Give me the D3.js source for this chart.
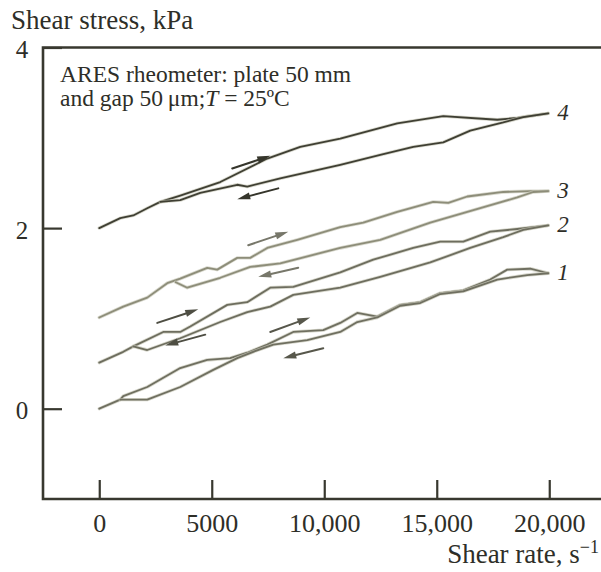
<!DOCTYPE html>
<html>
<head>
<meta charset="utf-8">
<script src="https://cdn.jsdelivr.net/npm/d3@7/dist/d3.min.js"></script>
<style>
  html, body { margin: 0; padding: 0; background: #fff; }
  svg { display: block; }
  text { font-family: "Liberation Serif", "DejaVu Serif", serif; fill: #2e2e28; }
</style>
</head>
<body>
<svg id="chart" width="601" height="572"></svg>
<script>
// ---- data (shear rate s^-1, shear stress kPa) ----
const xTicks = [0, 5000, 10000, 15000, 20000];
const xTickLabels = ["0", "5000", "10,000", "15,000", "20,000"];
const yTicks = [0, 2, 4];
const yTickLabels = ["0", "2", "4"];

const curve4Up = [[0,2.00],[933,2.11],[1511,2.14],[2133,2.22],[2711,2.29],[3600,2.36],[5378,2.51],[7467,2.77],[8933,2.90],[10711,2.99],[13244,3.16],[15289,3.24],[17689,3.20],[18578,3.22],[19956,3.27]];
const curve4Down = [[19956,3.27],[18844,3.23],[17956,3.17],[16489,3.08],[15289,2.95],[13956,2.90],[12489,2.81],[10711,2.70],[8044,2.55],[6578,2.46],[6133,2.48],[4489,2.39],[3600,2.31],[2711,2.29]];

const curve3Up = [[0,1.01],[1067,1.13],[2133,1.23],[3022,1.39],[3600,1.44],[4800,1.56],[5244,1.54],[6133,1.67],[6711,1.67],[7467,1.78],[8800,1.87],[10711,2.01],[11733,2.06],[13244,2.18],[14844,2.29],[15511,2.28],[16356,2.35],[17956,2.40],[19156,2.41],[19956,2.41]];
const curve3Down = [[19956,2.41],[19289,2.40],[18578,2.34],[16933,2.22],[14711,2.06],[12489,1.87],[10711,1.78],[8044,1.61],[6711,1.57],[5378,1.45],[3911,1.34],[3400,1.40]];

const curve2Up = [[0,0.51],[1067,0.63],[1511,0.69],[2844,0.85],[3600,0.85],[4044,0.91],[5689,1.15],[6578,1.18],[7600,1.34],[8622,1.35],[10711,1.51],[12178,1.65],[13956,1.78],[15156,1.85],[16178,1.85],[17378,1.96],[18578,1.99],[19956,2.03]];
const curve2Down = [[19956,2.03],[18844,1.98],[17956,1.90],[16489,1.78],[14711,1.62],[12489,1.46],[10711,1.34],[8622,1.26],[7600,1.13],[6578,1.07],[5378,0.96],[3600,0.78],[2133,0.65],[1511,0.69]];

const curve1Up = [[0,0.00],[933,0.10],[1067,0.14],[2133,0.24],[3600,0.45],[4800,0.54],[5822,0.56],[6578,0.62],[7467,0.71],[8622,0.85],[9956,0.87],[10711,0.95],[11467,1.06],[12356,1.02],[13378,1.15],[14267,1.18],[15156,1.28],[16178,1.31],[17378,1.43],[18133,1.54],[19156,1.55],[19956,1.50]];
const curve1Down = [[19956,1.50],[19022,1.48],[17689,1.43],[16178,1.30],[15156,1.27],[14267,1.17],[13378,1.14],[12356,1.01],[11467,0.96],[10711,0.85],[9244,0.76],[7733,0.71],[6844,0.63],[6133,0.56],[5067,0.43],[3600,0.24],[2133,0.10],[1067,0.10],[933,0.10]];

const curveNames = ["4", "3", "2", "1"];
const curveUp = [curve4Up, curve3Up, curve2Up, curve1Up];
const curveDown = [curve4Down, curve3Down, curve2Down, curve1Down];

// arrows: [fromRate, fromStress, toRate, toStress]
const arrowsRight = [[5911,2.66,7600,2.80],[6622,1.81,8400,1.96],[2578,0.95,4400,1.10],[7600,0.85,9378,1.01]];
const arrowsLeft  = [[7956,2.44,6133,2.32],[8844,1.56,7067,1.46],[4711,0.82,2933,0.70],[9956,0.67,8178,0.56]];

// ---- styles ----
const curveColors = ["#3f3f33", "#8d8d79", "#6d6d5e", "#6f6f60"];
const arrowColors = ["#35352b", "#77776a", "#4e4e43", "#57574b"];
const axisColor = "#38382f";

const svg = d3.select("#chart");
const x = d3.scaleLinear().domain([-2500, 22300]).range([43, 601]);
const y = d3.scaleLinear().domain([-1, 4]).range([499, 47.5]);

// frame
const frame = svg.append("g").attr("stroke", axisColor).attr("stroke-width", 2.6).attr("fill", "none");
frame.append("path").attr("d", `M601,${y(4)}H${x(-2500)}V${y(-1)}H601`);

// y ticks
const yAxis = d3.axisLeft(y).tickValues(yTicks).tickSize(-19).tickFormat((d,i) => yTickLabels[i]);
const gy = svg.append("g").attr("transform", `translate(${x(-2500)},0)`).call(yAxis);
gy.select(".domain").remove();
gy.selectAll(".tick line").attr("stroke", axisColor).attr("stroke-width", 2.2);
gy.selectAll(".tick text").attr("x", -21).attr("dy", "0.4em").attr("text-anchor", "middle")
  .style("font-size", "25px").style("font-family", "Liberation Serif, serif").attr("fill", "#2e2e28");

// x ticks
const xAxis = d3.axisBottom(x).tickValues(xTicks).tickSize(-19).tickFormat((d,i) => xTickLabels[i]);
const gx = svg.append("g").attr("transform", `translate(0,${y(-1)})`).call(xAxis);
gx.select(".domain").remove();
gx.selectAll(".tick line").attr("stroke", axisColor).attr("stroke-width", 2.2);
gx.selectAll(".tick text").attr("y", 33).attr("dy", 0)
  .style("font-size", "26px").style("font-family", "Liberation Serif, serif").attr("fill", "#2e2e28");

// axis titles
svg.append("text").attr("x", 11).attr("y", 29).style("font-size", "27px").text("Shear stress, kPa");
const xt = svg.append("text").attr("x", 599).attr("y", 563).attr("text-anchor", "end").style("font-size", "27px");
xt.append("tspan").text("Shear rate, s");
xt.append("tspan").attr("dy", -10).style("font-size", "18px").text("\u22121");

// annotation
svg.append("text").attr("x", 60).attr("y", 82).style("font-size", "23.5px").text("ARES rheometer: plate 50 mm");
const an = svg.append("text").attr("x", 60).attr("y", 106).style("font-size", "23.5px");
an.append("tspan").text("and gap 50\u2009\u03bcm;");
an.append("tspan").style("font-style", "italic").text("T");
an.append("tspan").text(" = 25\u00baC");

// curves
const line = d3.line().x(d => x(d[0])).y(d => y(d[1]));
const gc = svg.append("g").attr("fill", "none").attr("stroke-linejoin", "round").attr("stroke-linecap", "round");
curveNames.forEach((name, i) => {
  [curveUp[i], curveDown[i]].forEach(data => {
    gc.append("path").attr("d", line(data)).attr("stroke", "#c8c8b8").attr("stroke-width", 3.4).attr("opacity", 0.7);
    gc.append("path").attr("d", line(data)).attr("stroke", curveColors[i]).attr("stroke-width", 1.8);
  });
  const last = curveUp[i][curveUp[i].length - 1];
  svg.append("text").attr("x", x(last[0]) + 9).attr("y", y(last[1]) + 7)
    .style("font-size", "23px").style("font-style", "italic").text(name);
});

// arrows
function drawArrow(a, color) {
  const x1 = x(a[0]), y1 = y(a[1]), x2 = x(a[2]), y2 = y(a[3]);
  const ang = Math.atan2(y2 - y1, x2 - x1);
  const L = 13, W = 3.6;
  const bx = x2 - L * Math.cos(ang), by = y2 - L * Math.sin(ang);
  svg.append("line").attr("x1", x1).attr("y1", y1).attr("x2", bx).attr("y2", by)
    .attr("stroke", color).attr("stroke-width", 2).attr("stroke-linecap", "round");
  const px = -Math.sin(ang) * W, py = Math.cos(ang) * W;
  svg.append("path").attr("d", `M${x2},${y2}L${bx + px},${by + py}L${bx - px},${by - py}Z`).attr("fill", color);
}
arrowsRight.forEach((a, i) => drawArrow(a, arrowColors[i]));
arrowsLeft.forEach((a, i) => drawArrow(a, arrowColors[i]));
</script>
</body>
</html>
